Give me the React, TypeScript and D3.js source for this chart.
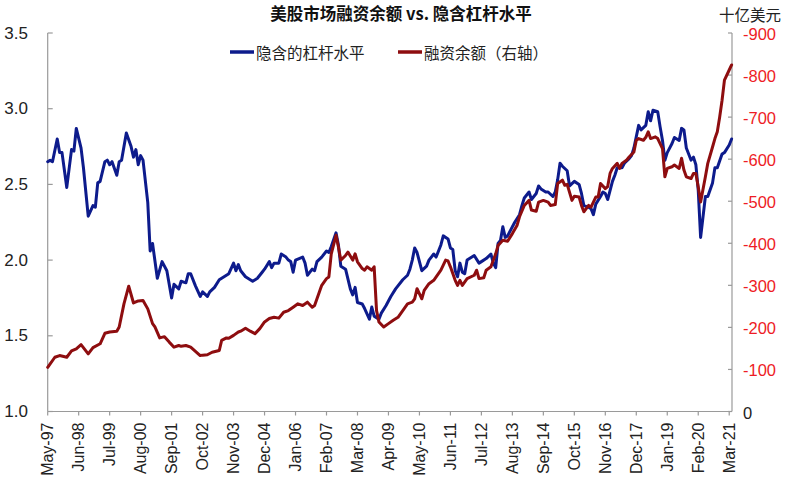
import React from "react";
import * as d3 from "d3";

const titleText = "美股市场融资余额 vs. 隐含杠杆水平";
const unitText = "十亿美元";
const leverageName = "隐含的杠杆水平";
const marginName = "融资余额（右轴）";

const xTickLabels = ["May-97","Jun-98","Jul-99","Aug-00","Sep-01","Oct-02","Nov-03","Dec-04","Jan-06","Feb-07","Mar-08","Apr-09","May-10","Jun-11","Jul-12","Aug-13","Sep-14","Oct-15","Nov-16","Dec-17","Jan-19","Feb-20","Mar-21"];
const leftTicks = [1.0, 1.5, 2.0, 2.5, 3.0, 3.5];
const rightTicks = [0, 100, 200, 300, 400, 500, 600, 700, 800, 900];
const rightTickLabels = ["0","-100","-200","-300","-400","-500","-600","-700","-800","-900"];

// implied leverage (left axis)
const leverage: [string, number][] = [
["1997-05",2.65],["1997-06",2.66],["1997-07",2.65],["1997-09",2.80],["1997-10",2.71],["1997-11",2.71],["1998-01",2.48],["1998-03",2.73],["1998-04",2.72],["1998-05",2.87],["1998-07",2.74],["1998-08",2.61],["1998-10",2.29],["1998-12",2.36],["1999-01",2.35],["1999-02",2.51],["1999-03",2.52],["1999-05",2.65],["1999-06",2.66],["1999-07",2.63],["1999-08",2.65],["1999-10",2.56],["1999-11",2.65],["1999-12",2.66],["2000-02",2.84],["2000-04",2.75],["2000-05",2.68],["2000-06",2.73],["2000-07",2.63],["2000-08",2.69],["2000-09",2.66],["2000-11",2.38],["2000-12",2.06],["2001-01",2.11],["2001-03",1.88],["2001-05",1.99],["2001-07",1.93],["2001-09",1.75],["2001-10",1.84],["2001-12",1.81],["2002-01",1.86],["2002-03",1.85],["2002-04",1.91],["2002-05",1.91],["2002-07",1.83],["2002-09",1.76],["2002-10",1.79],["2002-12",1.76],["2003-01",1.79],["2003-03",1.82],["2003-05",1.87],["2003-07",1.89],["2003-09",1.91],["2003-11",1.98],["2003-12",1.93],["2004-01",1.97],["2004-02",1.93],["2004-04",1.89],["2004-07",1.86],["2004-09",1.88],["2004-11",1.92],["2004-12",1.94],["2005-02",1.99],["2005-03",1.95],["2005-04",1.98],["2005-06",1.98],["2005-07",2.04],["2005-09",2.02],["2005-10",2.00],["2005-11",1.99],["2005-12",1.92],["2006-01",2.00],["2006-04",2.02],["2006-05",1.98],["2006-06",1.90],["2006-08",1.94],["2006-09",1.93],["2006-10",1.99],["2006-12",2.02],["2007-02",2.06],["2007-03",2.05],["2007-04",2.09],["2007-06",2.18],["2007-07",2.10],["2007-08",1.96],["2007-10",1.94],["2007-12",1.81],["2008-01",1.77],["2008-02",1.82],["2008-03",1.72],["2008-05",1.71],["2008-06",1.68],["2008-08",1.61],["2008-09",1.69],["2008-10",1.63],["2008-12",1.61],["2009-01",1.65],["2009-03",1.70],["2009-05",1.76],["2009-07",1.81],["2009-10",1.87],["2009-12",1.90],["2010-01",1.94],["2010-02",2.00],["2010-03",2.08],["2010-04",2.05],["2010-06",1.93],["2010-08",1.96],["2010-09",2.00],["2010-11",2.04],["2010-12",2.02],["2011-02",2.10],["2011-03",2.16],["2011-05",2.14],["2011-06",2.08],["2011-07",2.07],["2011-08",1.93],["2011-09",1.89],["2011-10",1.98],["2011-11",1.92],["2011-12",1.91],["2012-01",2.00],["2012-03",2.02],["2012-04",2.03],["2012-06",1.98],["2012-07",1.99],["2012-09",2.01],["2012-11",2.04],["2012-12",1.98],["2013-01",1.95],["2013-02",2.11],["2013-03",2.13],["2013-04",2.22],["2013-05",2.15],["2013-06",2.16],["2013-08",2.22],["2013-09",2.25],["2013-11",2.30],["2013-12",2.36],["2014-01",2.41],["2014-03",2.45],["2014-04",2.40],["2014-06",2.44],["2014-07",2.49],["2014-08",2.47],["2014-10",2.45],["2014-11",2.45],["2015-01",2.42],["2015-02",2.45],["2015-03",2.53],["2015-04",2.64],["2015-05",2.62],["2015-07",2.59],["2015-08",2.49],["2015-10",2.52],["2015-12",2.50],["2016-01",2.44],["2016-02",2.36],["2016-04",2.35],["2016-05",2.34],["2016-06",2.30],["2016-07",2.37],["2016-09",2.42],["2016-10",2.45],["2016-11",2.44],["2016-12",2.40],["2017-02",2.52],["2017-03",2.56],["2017-04",2.61],["2017-06",2.61],["2017-07",2.64],["2017-09",2.67],["2017-10",2.69],["2017-11",2.74],["2018-01",2.89],["2018-02",2.86],["2018-04",2.89],["2018-05",2.98],["2018-06",2.92],["2018-07",2.99],["2018-09",2.98],["2018-10",2.88],["2018-11",2.79],["2018-12",2.66],["2019-01",2.71],["2019-03",2.77],["2019-04",2.81],["2019-06",2.79],["2019-07",2.87],["2019-08",2.86],["2019-09",2.74],["2019-11",2.66],["2019-12",2.68],["2020-01",2.63],["2020-02",2.46],["2020-03",2.15],["2020-05",2.42],["2020-06",2.42],["2020-08",2.51],["2020-09",2.61],["2020-10",2.61],["2020-12",2.70],["2021-01",2.71],["2021-03",2.76],["2021-04",2.80]
];

// margin debt, billion USD (right axis)
const marginDebt: [string, number][] = [
["1997-05",105],["1997-08",129],["1997-10",133],["1998-01",129],["1998-03",144],["1998-05",149],["1998-07",159],["1998-10",137],["1998-12",152],["1999-03",161],["1999-05",186],["1999-07",189],["1999-10",191],["1999-11",201],["2000-01",256],["2000-03",298],["2000-05",258],["2000-07",263],["2000-09",264],["2000-11",244],["2001-01",209],["2001-02",201],["2001-04",175],["2001-06",178],["2001-08",165],["2001-10",153],["2001-12",157],["2002-01",155],["2002-03",157],["2002-05",153],["2002-07",143],["2002-09",133],["2002-10",134],["2002-12",135],["2003-02",141],["2003-05",145],["2003-06",169],["2003-08",175],["2003-09",174],["2003-11",181],["2004-01",189],["2004-02",191],["2004-04",198],["2004-06",191],["2004-08",185],["2004-10",197],["2004-12",213],["2005-02",221],["2005-04",224],["2005-06",222],["2005-08",236],["2005-10",240],["2005-12",248],["2006-02",256],["2006-04",252],["2006-06",260],["2006-08",248],["2006-09",252],["2006-11",284],["2006-12",300],["2007-02",316],["2007-03",320],["2007-04",375],["2007-06",419],["2007-07",391],["2007-08",360],["2007-10",371],["2007-11",379],["2008-01",360],["2008-02",375],["2008-03",356],["2008-05",340],["2008-06",336],["2008-07",344],["2008-09",336],["2008-10",344],["2008-11",240],["2008-12",213],["2009-02",201],["2009-04",209],["2009-06",217],["2009-08",224],["2009-10",240],["2009-12",256],["2010-02",260],["2010-03",268],["2010-04",292],["2010-06",268],["2010-07",288],["2010-09",304],["2010-11",312],["2011-02",336],["2011-04",360],["2011-05",358],["2011-06",344],["2011-08",312],["2011-09",300],["2011-10",312],["2011-11",300],["2012-01",316],["2012-04",324],["2012-05",336],["2012-06",316],["2012-08",318],["2012-09",336],["2012-11",344],["2013-01",375],["2013-02",395],["2013-04",407],["2013-06",405],["2013-08",423],["2013-10",443],["2013-11",463],["2014-01",490],["2014-03",502],["2014-04",479],["2014-06",476],["2014-07",498],["2014-09",502],["2014-11",498],["2014-12",490],["2015-02",492],["2015-03",542],["2015-05",550],["2015-06",538],["2015-07",540],["2015-09",502],["2015-10",512],["2015-12",510],["2016-01",490],["2016-02",475],["2016-04",490],["2016-05",486],["2016-07",510],["2016-08",510],["2016-09",542],["2016-11",530],["2016-12",535],["2017-01",566],["2017-02",578],["2017-04",590],["2017-05",578],["2017-06",590],["2017-08",598],["2017-09",605],["2017-11",617],["2017-12",645],["2018-01",649],["2018-03",645],["2018-04",652],["2018-05",665],["2018-06",649],["2018-08",653],["2018-09",649],["2018-11",625],["2018-12",558],["2019-01",578],["2019-03",582],["2019-04",586],["2019-06",578],["2019-07",602],["2019-08",574],["2019-09",558],["2019-11",554],["2019-12",566],["2020-01",566],["2020-02",534],["2020-03",498],["2020-05",558],["2020-06",590],["2020-08",629],["2020-09",649],["2020-10",665],["2020-11",700],["2020-12",740],["2021-01",788],["2021-03",812],["2021-04",824]
];

const W = 789, H = 489;
const left = 47.7, right = 732, top = 33, bottom = 411.5;

const parseMonth = d3.timeParse("%Y-%m");
const parseTick = d3.timeParse("%b-%y");
const start = parseMonth("1997-05")!;
const monthIdx = (d: Date) => d3.timeMonth.count(start, d);

const x = d3.scaleLinear().domain([0, 287]).range([left, 731.6]);
const yL = d3.scaleLinear().domain([1, 3.5]).range([bottom, top]);
const yR = d3.scaleLinear().domain([0, 900]).range([bottom, top]);

const BLUE = "#0d1b8c";
const DARKRED = "#8e0d0f";
const RED = "#ee1c25";
const AXIS = "#9a9a9a";
const NUM_FONT = "'Liberation Sans', Arial, sans-serif";
const CJK_FONT = "'Noto Sans CJK SC', sans-serif";

export default function App() {
  const levLine = d3.line<[string, number]>()
    .x(d => x(monthIdx(parseMonth(d[0])!)))
    .y(d => yL(d[1]));
  const marLine = d3.line<[string, number]>()
    .x(d => x(monthIdx(parseMonth(d[0])!)))
    .y(d => yR(d[1]));

  return (
    <svg width={W} height={H} style={{ position: "absolute", left: 0, top: 0, background: "#fff" }}>
      <rect x={0} y={0} width={W} height={H} fill="#fff" />
      {/* title */}
      <text x={401} y={20} textAnchor="middle" fontFamily={CJK_FONT} fontWeight="bold" fontSize={16.5} fill="#111">
        {titleText}
      </text>
      <text x={719} y={21} fontFamily={CJK_FONT} fontSize={15.5} fill="#222">{unitText}</text>

      {/* legend */}
      <line x1={230} x2={254} y1={52} y2={52} stroke={BLUE} strokeWidth={3.5} />
      <text x={256} y={52} dominantBaseline="central" fontFamily={CJK_FONT} fontSize={15.5} fill="#222">{leverageName}</text>
      <line x1={398} x2={422} y1={52} y2={52} stroke={DARKRED} strokeWidth={3.5} />
      <text x={424} y={52} dominantBaseline="central" fontFamily={CJK_FONT} fontSize={15.5} fill="#222">{marginName}</text>

      {/* axes lines */}
      <line x1={left} x2={left} y1={top} y2={bottom} stroke={AXIS} strokeWidth={1.2} />
      <line x1={right} x2={right} y1={top} y2={bottom} stroke={AXIS} strokeWidth={1.2} />
      <line x1={left} x2={right} y1={bottom} y2={bottom} stroke={AXIS} strokeWidth={1.2} />

      {/* left ticks */}
      {leftTicks.map(t => (
        <g key={"l" + t}>
          <line x1={left} x2={left + 5} y1={yL(t)} y2={yL(t)} stroke={AXIS} strokeWidth={1.2} />
          <text x={28} y={yL(t)} textAnchor="end" dominantBaseline="central" fontFamily={NUM_FONT} fontSize={17} fill="#222">
            {t.toFixed(1)}
          </text>
        </g>
      ))}

      {/* right ticks */}
      {rightTicks.map((t, i) => (
        <g key={"r" + t}>
          <line x1={right - 4} x2={right} y1={yR(t)} y2={yR(t)} stroke={AXIS} strokeWidth={1.2} />
          <text x={743} y={yR(t) + 1} dominantBaseline="central" fontFamily={NUM_FONT} fontSize={16.5} fill={t === 0 ? "#222" : RED}>
            {rightTickLabels[i]}
          </text>
        </g>
      ))}

      {/* x ticks */}
      {xTickLabels.map(lab => {
        const xi = x(monthIdx(parseTick(lab)!));
        return (
          <g key={lab}>
            <line x1={xi} x2={xi} y1={bottom} y2={bottom + 4} stroke={AXIS} strokeWidth={1.2} />
            <text transform={`translate(${xi},${bottom + 11}) rotate(-90)`} textAnchor="end" dominantBaseline="central"
              fontFamily={NUM_FONT} fontSize={16} fill="#222">
              {lab}
            </text>
          </g>
        );
      })}

      {/* series */}
      <path d={levLine(leverage) ?? ""} fill="none" stroke={BLUE} strokeWidth={3} strokeLinejoin="round" strokeLinecap="round" />
      <path d={marLine(marginDebt) ?? ""} fill="none" stroke={DARKRED} strokeWidth={3} strokeLinejoin="round" strokeLinecap="round" />
    </svg>
  );
}
